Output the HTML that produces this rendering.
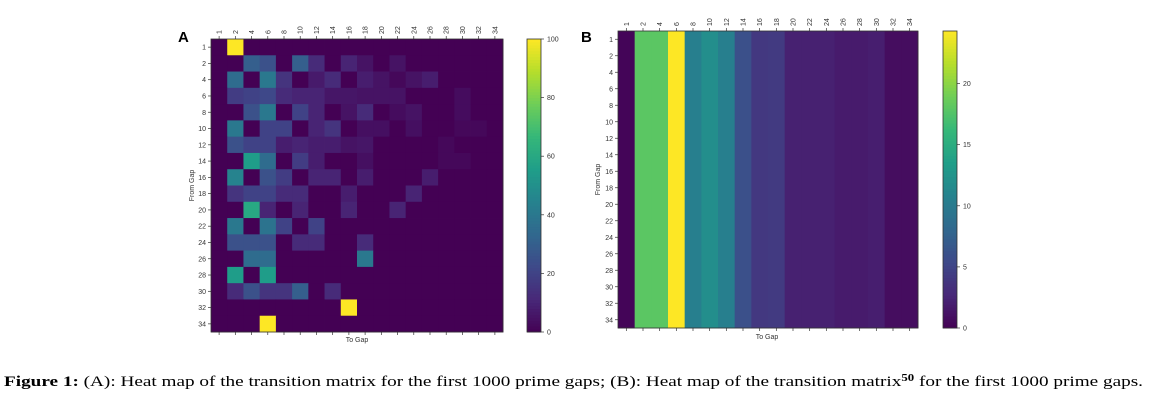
<!DOCTYPE html>
<html><head><meta charset="utf-8"><style>
html,body{margin:0;padding:0;background:#fff;}
svg{display:block;font-family:"Liberation Sans",sans-serif;}
</style></head><body>
<svg id="fig" width="1157" height="409" viewBox="0 0 1157 409">
<text x="178" y="42" font-size="15" font-weight="bold">A</text>
<text x="581" y="42" font-size="15" font-weight="bold">B</text>
<g id="pa"></g>
<g id="pb"></g>
<text x="4" y="386" font-family="Liberation Serif, serif" font-size="15" textLength="1139" lengthAdjust="spacingAndGlyphs"><tspan font-weight="bold">Figure 1:</tspan> (A): Heat map of the transition matrix for the first 1000 prime gaps; (B): Heat map of the transition matrix<tspan font-size="10" dy="-5" font-weight="bold">50</tspan><tspan dy="5"> for the first 1000 prime gaps.</tspan></text>
</svg>
<script>
const gaps = [1,2,4,6,8,10,12,14,16,18,20,22,24,26,28,30,32,34];
const matrixA = [
[0,100,0,0,0,0,0,0,0,0,0,0,0,0,0,0,0,0],
[0,0,30,25,0,30,12,0,10,5,0,5,0,0,0,0,0,0],
[0,35,0,40,15,0,7,12,0,8,5,2,5,8,0,0,0,0],
[0,18,20,22,12,10,10,6,6,5,5,5,0,0,0,3,0,0],
[0,0,25,40,0,20,10,0,5,12,0,3,5,0,0,3,0,0],
[0,40,0,20,20,0,10,15,0,4,4,0,4,0,0,2,2,0],
[0,25,20,20,8,10,8,8,5,6,0,0,0,0,2,0,0,0],
[0,0,55,35,0,18,8,0,0,4,0,0,0,0,2,2,0,0],
[0,45,0,25,18,0,10,10,0,8,0,0,0,8,0,0,0,0],
[0,15,20,20,12,12,0,0,8,0,0,0,10,0,0,0,0,0],
[0,0,60,10,0,10,0,0,10,0,0,10,0,0,0,0,0,0],
[0,40,0,38,20,0,20,0,0,0,0,0,0,0,0,0,0,0],
[0,25,25,25,0,12,12,0,0,12,0,0,0,0,0,0,0,0],
[0,0,35,35,0,0,0,0,0,40,0,0,0,0,0,0,0,0],
[0,55,0,55,0,0,0,0,0,0,0,0,0,0,0,0,0,0],
[0,12,25,15,15,30,0,12,0,0,0,0,0,0,0,0,0,0],
[0,0,0,0,0,0,0,0,100,0,0,0,0,0,0,0,0,0],
[0,0,0,100,0,0,0,0,0,0,0,0,0,0,0,0,0,0]];
const columnB = [0.3,18,18,24.3,10.5,12,10.5,6,4,4.2,2.2,2.2,2.2,1.8,1.8,2,0.8,0.8];
const ticksA = [0,20,40,60,80,100];
const ticksB = [0,5,10,15,20];
const vir=[[68,1,84],[72,40,120],[62,73,137],[49,104,142],[38,130,142],[31,158,137],[53,183,121],[110,206,88],[181,222,43],[253,231,37]];
function viridis(t){t=Math.max(0,Math.min(1,t))*9;const i=Math.min(8,Math.floor(t)),f=t-i;const a=vir[i],b=vir[i+1];return `rgb(${a.map((v,k)=>Math.round(v+(b[k]-v)*f)).join(',')})`;}
const NS='http://www.w3.org/2000/svg';
function el(p,tag,attrs,txt){const e=document.createElementNS(NS,tag);for(const k in attrs)e.setAttribute(k,attrs[k]);if(txt!==undefined)e.textContent=txt;p.appendChild(e);return e;}
function panel(g,X0,Y0,X1,Y1,val,vmax,ticks,cbX,yl,xlX,xlY){
 const n=gaps.length,cw=(X1-X0)/n,ch=(Y1-Y0)/n;
 const xs=i=>X0+i*cw, ys=j=>Y0+j*ch;
 for(let j=0;j<n;j++)for(let i=0;i<n;i++){
  const r=el(g,'rect',{x:xs(i),y:ys(j),width:cw+0.4,height:ch+0.4,fill:viridis(val(j,i)/vmax)});
  
  
 }
 el(g,'rect',{x:X0,y:Y0,width:X1-X0,height:Y1-Y0,fill:'none',stroke:'#333','stroke-width':0.8});
 for(let i=0;i<n;i++){
  const cx=xs(i)+cw/2;
  el(g,'line',{x1:cx,y1:Y0,x2:cx,y2:Y0-3,stroke:'#333','stroke-width':0.7});
  el(g,'line',{x1:cx,y1:Y1,x2:cx,y2:Y1+3,stroke:'#333','stroke-width':0.7});
  const t=el(g,'text',{x:cx+2.5,y:Y0-5,'font-size':7,fill:'#333',transform:`rotate(-90 ${cx+2.5} ${Y0-5})`},gaps[i]);
  
  
  const cy=ys(i)+ch/2;
  el(g,'line',{x1:X0,y1:cy,x2:X0-3,y2:cy,stroke:'#333','stroke-width':0.7});
  const u=el(g,'text',{x:X0-5,y:cy+2.5,'font-size':7,fill:'#333','text-anchor':'end'},gaps[i]);
  
  
 }
 const yt=el(g,'text',{x:yl,y:(Y0+Y1)/2,'font-size':7,fill:'#333','text-anchor':'middle',transform:`rotate(-90 ${yl} ${(Y0+Y1)/2})`},'From Gap');
 
 
 const xt=el(g,'text',{x:xlX,y:xlY,'font-size':7,fill:'#333','text-anchor':'middle'},'To Gap');
 
 
 const cb=el(g,'g',{});
 
 
 const H=Y1-Y0,steps=100;
 for(let k=0;k<steps;k++){el(cb,'rect',{x:cbX,y:Y1-(k+1)*H/steps,width:14,height:H/steps+0.5,fill:viridis((k+0.5)/steps)});}
 el(cb,'rect',{x:cbX,y:Y0,width:14,height:H,fill:'none',stroke:'#333','stroke-width':0.8});
 ticks.forEach(v=>{const y=Y1-v/vmax*H;
  el(cb,'line',{x1:cbX+14,y1:y,x2:cbX+17,y2:y,stroke:'#333','stroke-width':0.7});
  const t=el(cb,'text',{x:cbX+20,y:y+2.5,'font-size':7,fill:'#333'},v);
  
  });
}
panel(document.getElementById('pa'),211,39,503,332,(j,i)=>matrixA[j][i],100,ticksA,527,194,357,342);
panel(document.getElementById('pb'),618,31,918,328,(j,i)=>columnB[i],24.3,ticksB,943,600,767,339);
</script>
</body></html>
